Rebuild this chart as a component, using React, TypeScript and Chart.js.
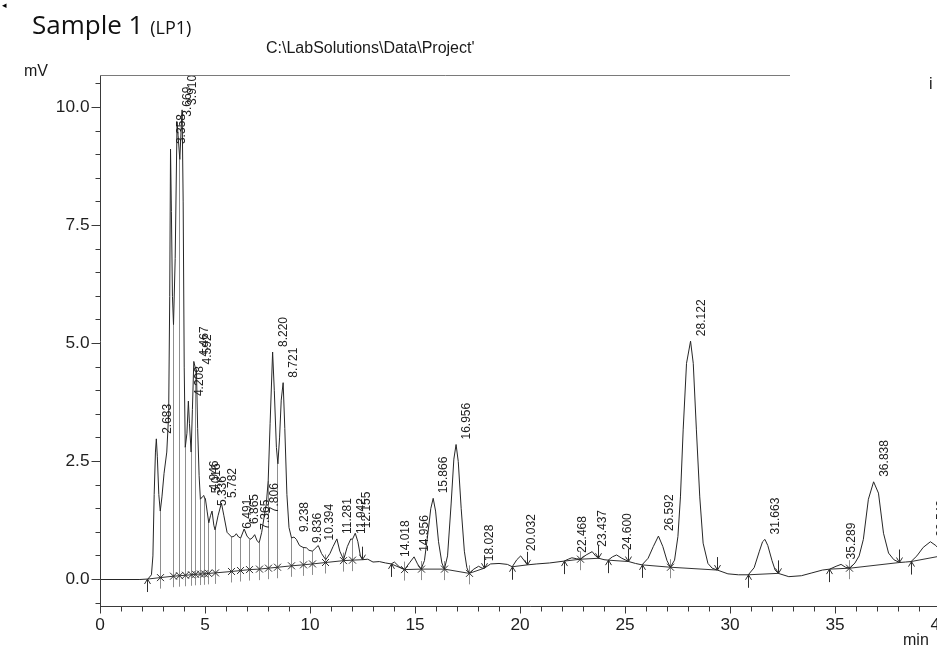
import React, { useEffect, useRef } from "react";
import { Chart, registerables } from "chart.js";

Chart.register(...registerables);

// ---- chromatogram trace (time in min, signal in mV) ----
const traceTime = [
  0, 1.0, 1.9, 2.28, 2.45, 2.52, 2.58, 2.64, 2.683, 2.73, 2.8, 2.87, 2.95, 3.05, 3.18, 3.27, 3.32, 3.358, 3.4, 3.45,
  3.5, 3.58, 3.669, 3.72, 3.8, 3.86, 3.91, 3.96, 4.01, 4.06, 4.14, 4.208, 4.26, 4.34, 4.4, 4.467, 4.53, 4.592, 4.65, 4.72,
  4.78, 4.87, 4.946, 4.98, 5.016, 5.1, 5.18, 5.26, 5.336, 5.42, 5.48, 5.62, 5.782, 5.9, 6.05, 6.27, 6.4, 6.491, 6.6, 6.7,
  6.865, 7.0, 7.14, 7.25, 7.365, 7.48, 7.58, 7.7, 7.806, 7.92, 8.01, 8.1, 8.22, 8.3, 8.4, 8.47, 8.55, 8.63, 8.721, 8.8,
  8.9, 9.0, 9.12, 9.238, 9.35, 9.5, 9.67, 9.836, 9.95, 10.12, 10.25, 10.394, 10.55, 10.75, 10.95, 11.1, 11.281, 11.42, 11.6, 11.78,
  11.942, 12.02, 12.155, 12.28, 12.4, 12.52, 12.75, 13.0, 13.3, 13.6, 13.87, 14.018, 14.25, 14.5, 14.75, 14.956, 15.12, 15.29, 15.45, 15.62,
  15.75, 15.866, 15.98, 16.12, 16.28, 16.4, 16.55, 16.72, 16.85, 16.956, 17.06, 17.2, 17.35, 17.47, 17.58, 17.8, 18.028, 18.2, 18.3, 18.6,
  19.0, 19.4, 19.63, 19.85, 20.032, 20.2, 20.35, 20.8, 21.4, 22.1, 22.3, 22.468, 22.7, 22.88, 23.15, 23.437, 23.6, 23.75, 24.0, 24.2,
  24.4, 24.6, 24.85, 25.18, 25.5, 25.81, 26.1, 26.35, 26.592, 26.8, 27.0, 27.16, 27.36, 27.52, 27.64, 27.77, 27.93, 28.122, 28.25, 28.4,
  28.56, 28.72, 28.95, 29.15, 29.4, 29.9, 30.4, 30.87, 31.15, 31.4, 31.55, 31.663, 31.8, 32.0, 32.15, 32.3, 32.8, 33.4, 33.9, 34.4,
  34.75, 35.05, 35.289, 35.5, 35.71, 35.95, 36.15, 36.35, 36.59, 36.838, 37.07, 37.31, 37.55, 37.8, 38.07, 38.35, 38.62, 38.9, 39.2, 39.543,
  39.8, 40.0, 40.3,
];
const traceMv = [
  0, 0.0, 0.0, 0.01, 0.1, 0.5, 1.8, 2.7, 2.98, 2.6, 1.8, 1.45, 1.75, 2.25, 2.7, 3.5, 6.0, 9.12, 7.8, 6.0,
  5.4, 6.8, 9.7, 9.4, 8.9, 9.5, 9.95, 8.0, 4.5, 2.8, 3.1, 3.78, 3.3, 2.7, 3.6, 4.62, 4.5, 4.45, 3.2, 2.2,
  1.7, 1.75, 1.78, 1.72, 1.72, 1.45, 1.2, 1.35, 1.45, 1.15, 1.05, 1.35, 1.62, 1.35, 1.0, 0.9, 0.92, 0.97, 0.9, 0.88,
  1.07, 0.92, 0.85, 0.88, 0.95, 0.82, 0.78, 1.0, 1.3, 1.6, 2.1, 3.3, 4.82, 4.0, 2.8, 2.45, 3.0, 3.8, 4.17, 3.2,
  1.8, 1.1, 0.88, 0.9, 0.85, 0.72, 0.68, 0.67, 0.62, 0.6, 0.66, 0.72, 0.55, 0.42, 0.55, 0.7, 0.86, 0.6, 0.42, 0.7,
  0.86, 0.85, 0.98, 0.8, 0.5, 0.42, 0.43, 0.37, 0.38, 0.35, 0.33, 0.37, 0.27, 0.21, 0.36, 0.48, 0.33, 0.22, 0.4, 1.0,
  1.5, 1.72, 1.45, 0.8, 0.35, 0.22, 0.5, 1.6, 2.55, 2.86, 2.5, 1.5, 0.6, 0.25, 0.13, 0.22, 0.28, 0.24, 0.24, 0.33,
  0.34, 0.32, 0.27, 0.42, 0.5, 0.4, 0.31, 0.33, 0.35, 0.39, 0.43, 0.46, 0.44, 0.43, 0.52, 0.59, 0.5, 0.45, 0.42, 0.41,
  0.48, 0.52, 0.45, 0.38, 0.34, 0.31, 0.45, 0.7, 0.92, 0.7, 0.4, 0.26, 0.41, 0.91, 1.75, 3.17, 4.58, 5.05, 4.58, 3.17,
  1.75, 0.77, 0.34, 0.24, 0.2, 0.12, 0.1, 0.1, 0.25, 0.6, 0.8, 0.85, 0.72, 0.4, 0.2, 0.13, 0.06, 0.08, 0.14, 0.2,
  0.22, 0.28, 0.32, 0.26, 0.24, 0.35, 0.5, 0.85, 1.7, 2.07, 1.83, 0.98, 0.56, 0.42, 0.36, 0.37, 0.38, 0.5, 0.68, 0.8,
  0.72, 0.62, 0.55,
];

// ---- integration marks (peak start / end / valley) on the baseline ----
const markerTime = [
  2.28, 2.87, 3.5, 3.8, 4.06, 4.34, 4.53, 4.78, 4.98, 5.18, 5.48, 6.27, 6.7, 7.14, 7.58, 8.01, 8.47, 9.12, 9.67, 10.12,
  10.75, 11.6, 12.02, 12.52, 13.87, 14.5, 15.29, 16.4, 17.58, 18.3, 19.63, 20.35, 22.1, 22.88, 23.75, 24.2, 25.18, 25.81, 27.16, 29.4,
  30.87, 32.3, 34.75, 35.71, 38.07, 38.62,
];
const markerMv = [
  0.01, 0.04, 0.07, 0.08, 0.09, 0.1, 0.11, 0.115, 0.12, 0.13, 0.14, 0.17, 0.19, 0.21, 0.22, 0.24, 0.26, 0.29, 0.31, 0.33,
  0.36, 0.4, 0.41, 0.42, 0.33, 0.21, 0.22, 0.22, 0.13, 0.24, 0.27, 0.31, 0.39, 0.43, 0.45, 0.41, 0.38, 0.31, 0.26, 0.2,
  0.1, 0.13, 0.22, 0.24, 0.36, 0.38,
];
const markerKind = [
  "start", "valley", "valley", "valley", "valley", "valley", "valley", "valley", "valley", "valley", "valley", "valley", "valley", "valley", "valley", "valley", "valley", "valley", "valley", "valley",
  "valley", "valley", "valley", "end", "start", "valley", "valley", "valley", "valley", "end", "start", "end", "start", "valley", "end", "start", "end", "start", "valley", "end",
  "start", "end", "start", "valley", "end", "start",
];
const baselineTailTime = [40.3];
const baselineTailMv = [0.52];

// ---- peak retention-time labels ----
const peakLabels = [
  "2.683", "3.358", "3.669", "3.910", "4.208", "4.467", "4.592", "4.946", "5.016", "5.336", "5.782", "6.491", "6.865",
  "7.365", "7.806", "8.220", "8.721", "9.238", "9.836", "10.394", "11.281", "11.942", "12.155", "14.018", "14.956",
  "15.866", "16.956", "18.028", "20.032", "22.468", "23.437", "24.600", "26.592", "28.122", "31.663", "35.289",
  "36.838", "39.543",
];

// ---- axis ticks ----
const yTickLabels = ["0.0", "2.5", "5.0", "7.5", "10.0"];
const xTickLabels = ["0", "5", "10", "15", "20", "25", "30", "35", "40"];

const X_MIN = 0;
const X_MAX = 40;
const Y_MIN = -0.572;
const Y_MAX = 10.689;

const traceAt = (t: number): number => {
  for (let i = 1; i < traceTime.length; i++) {
    if (t <= traceTime[i]) {
      const t0 = traceTime[i - 1], t1 = traceTime[i];
      const f = (t - t0) / (t1 - t0);
      return traceMv[i - 1] + f * (traceMv[i] - traceMv[i - 1]);
    }
  }
  return traceMv[traceMv.length - 1];
};

const FONT = '"Liberation Sans", Arial, Helvetica, sans-serif';

const chromPlugin = {
  id: "chrom",
  beforeDatasetsDraw(chart: any) {
    const { ctx, scales } = chart;
    const xs = scales.x, ys = scales.y;
    ctx.save();
    ctx.strokeStyle = "#8e8e8e";
    ctx.lineWidth = 1;
    markerTime.forEach((t, i) => {
      if (markerKind[i] !== "valley") return;
      const px = Math.floor(xs.getPixelForValue(t)) + 0.5;
      const by = ys.getPixelForValue(markerMv[i]);
      const top = ys.getPixelForValue(traceAt(t));
      ctx.beginPath();
      ctx.moveTo(px, Math.min(top, by - 8));
      ctx.lineTo(px, by + 11);
      ctx.stroke();
    });
    ctx.restore();
  },
  afterDatasetsDraw(chart: any) {
    const { ctx, scales } = chart;
    const xs = scales.x, ys = scales.y;
    ctx.save();
    // markers
    ctx.strokeStyle = "#2e2e2e";
    ctx.lineWidth = 1;
    markerTime.forEach((t, i) => {
      const px = Math.floor(xs.getPixelForValue(t)) + 0.5;
      const by = ys.getPixelForValue(markerMv[i]);
      const k = markerKind[i];
      ctx.beginPath();
      if (k === "valley") {
        ctx.moveTo(px - 3.5, by - 3.5);
        ctx.lineTo(px + 3.5, by + 3.5);
        ctx.moveTo(px + 3.5, by - 3.5);
        ctx.lineTo(px - 3.5, by + 3.5);
      } else if (k === "start") {
        ctx.moveTo(px, by + 13);
        ctx.lineTo(px, by);
        ctx.moveTo(px - 3, by + 5);
        ctx.lineTo(px, by);
        ctx.lineTo(px + 3, by + 5);
      } else {
        ctx.moveTo(px, by - 13);
        ctx.lineTo(px, by);
        ctx.moveTo(px - 3, by - 5);
        ctx.lineTo(px, by);
        ctx.lineTo(px + 3, by - 5);
      }
      ctx.stroke();
    });
    // peak labels
    ctx.fillStyle = "#1e1e1e";
    ctx.font = `12px ${FONT}`;
    ctx.textAlign = "left";
    ctx.textBaseline = "middle";
    peakLabels.forEach((lab) => {
      const t = parseFloat(lab);
      const px = xs.getPixelForValue(t);
      const py = ys.getPixelForValue(traceAt(t));
      ctx.save();
      ctx.translate(px + 11, py - 5);
      ctx.rotate(-Math.PI / 2);
      ctx.fillText(lab, 0, 0);
      ctx.restore();
    });
    ctx.restore();
  },
  afterDraw(chart: any) {
    const { ctx, chartArea: a, scales } = chart;
    const xs = scales.x, ys = scales.y;
    ctx.save();
    const ax = Math.floor(a.left) + 0.5;
    const ay = Math.floor(a.bottom) + 0.5;
    const at = Math.floor(a.top) + 0.5;
    // top frame line
    ctx.strokeStyle = "#7a7a7a";
    ctx.lineWidth = 1;
    ctx.beginPath();
    ctx.moveTo(ax, at);
    ctx.lineTo(790, at);
    ctx.stroke();
    // axes
    ctx.strokeStyle = "#3a3a3a";
    ctx.beginPath();
    ctx.moveTo(ax, at);
    ctx.lineTo(ax, ay + 1);
    ctx.moveTo(ax, ay);
    ctx.lineTo(chart.width, ay);
    ctx.stroke();
    // y ticks
    ctx.beginPath();
    for (let k = -1; k * 0.5 <= Y_MAX; k++) {
      const v = k * 0.5;
      const py = Math.floor(ys.getPixelForValue(v)) + 0.5;
      const len = k % 5 === 0 ? 9 : 5;
      ctx.moveTo(ax - len, py);
      ctx.lineTo(ax, py);
    }
    // x ticks
    for (let t = X_MIN; t <= X_MAX; t++) {
      const px = Math.floor(xs.getPixelForValue(t)) + 0.5;
      const len = t % 5 === 0 ? 7 : 5;
      ctx.moveTo(px, ay);
      ctx.lineTo(px, ay + len);
    }
    ctx.stroke();
    // tick labels
    ctx.fillStyle = "#1e1e1e";
    ctx.font = `16px ${FONT}`;
    ctx.textAlign = "right";
    ctx.textBaseline = "middle";
    yTickLabels.forEach((lab) => {
      const py = ys.getPixelForValue(parseFloat(lab));
      ctx.save();
      ctx.translate(ax - 11, py + 0.5);
      ctx.scale(1.08, 1);
      ctx.fillText(lab, 0, 0);
      ctx.restore();
    });
    ctx.textAlign = "center";
    ctx.textBaseline = "alphabetic";
    xTickLabels.forEach((lab) => {
      const px = xs.getPixelForValue(parseFloat(lab));
      ctx.save();
      ctx.translate(px, 630);
      ctx.scale(1.08, 1);
      ctx.fillText(lab, 0, 0);
      ctx.restore();
    });
    ctx.restore();
  },
};

export default function App() {
  const ref = useRef<HTMLCanvasElement | null>(null);

  useEffect(() => {
    if (!ref.current) return;
    const traceData = traceTime.map((t, i) => ({ x: t, y: traceMv[i] }));
    const baselineData: { x: number; y: number | null }[] = [];
    markerTime.forEach((t, i) => {
      baselineData.push({ x: t, y: markerMv[i] });
      if (markerKind[i] === "end") baselineData.push({ x: t + 0.001, y: null });
    });
    baselineTailTime.forEach((t, i) => baselineData.push({ x: t, y: baselineTailMv[i] }));

    const chart = new Chart(ref.current, {
      type: "line",
      data: {
        datasets: [
          {
            data: traceData,
            borderColor: "#262626",
            borderWidth: 1,
            pointRadius: 0,
            tension: 0,
            fill: false,
          },
          {
            data: baselineData as any,
            borderColor: "#333333",
            borderWidth: 1,
            pointRadius: 0,
            tension: 0,
            fill: false,
            spanGaps: false,
          },
        ],
      },
      options: {
        responsive: false,
        animation: false,
        devicePixelRatio: 1,
        events: [],
        layout: { padding: { left: 100, right: 20, top: 75, bottom: 41.5 } },
        scales: {
          x: { type: "linear", min: X_MIN, max: X_MAX, display: false },
          y: { type: "linear", min: Y_MIN, max: Y_MAX, display: false },
        },
        plugins: { legend: { display: false }, tooltip: { enabled: false }, title: { display: false } },
      },
      plugins: [chromPlugin],
    });
    return () => chart.destroy();
  }, []);

  const txt: React.CSSProperties = { position: "absolute", whiteSpace: "nowrap", color: "#1a1a1a" };

  return (
    <div style={{ position: "fixed", left: 0, top: 0, width: 937, height: 648, overflow: "hidden", background: "#fff" }}>
      <canvas ref={ref} width={960} height={648} style={{ position: "absolute", left: 0, top: 0, width: 960, height: 648 }} />
      <div style={{ ...txt, left: 2, top: 1, fontFamily: FONT, fontSize: 9, lineHeight: "9px", color: "#000" }}>◂</div>
      <div style={{ ...txt, left: 32, top: 11, fontFamily: '"Open Sans", sans-serif', fontSize: 26, lineHeight: "26px", color: "#111" }}>
        Sample 1 <span style={{ fontSize: 18 }}>(LP1)</span>
      </div>
      <div style={{ ...txt, left: 266, top: 40, fontFamily: FONT, fontSize: 16, lineHeight: "16px" }}>C:\LabSolutions\Data\Project'</div>
      <div style={{ ...txt, left: 24, top: 63, fontFamily: FONT, fontSize: 16, lineHeight: "16px" }}>mV</div>
      <div style={{ ...txt, left: 929, top: 76, fontFamily: FONT, fontSize: 16, lineHeight: "16px" }}>i</div>
      <div style={{ ...txt, left: 903, top: 632, fontFamily: FONT, fontSize: 16, lineHeight: "16px" }}>min</div>
    </div>
  );
}
